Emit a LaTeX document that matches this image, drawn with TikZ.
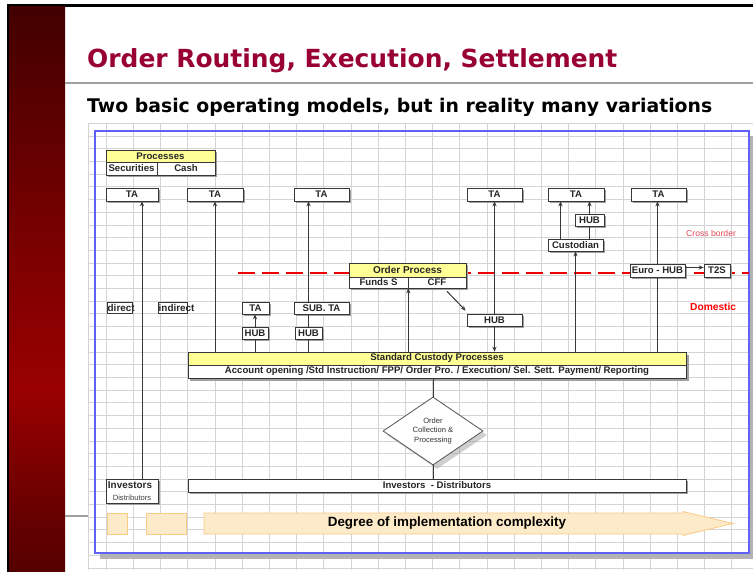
\documentclass[tikz,border=0pt]{standalone}
\usepackage{fontspec}
\setmainfont{Liberation Sans}
\newfontfamily\headfont{DejaVu Sans}
\usetikzlibrary{shapes.geometric,shadows,arrows.meta}

\definecolor{titlered}{RGB}{153,0,51}
\definecolor{gridgray}{RGB}{212,212,212}
\definecolor{frameblue}{RGB}{95,95,250}
\definecolor{boxyellow}{RGB}{255,255,150}
\definecolor{dashred}{RGB}{238,0,0}
\definecolor{lightorange}{RGB}{253,234,200}
\definecolor{edgeorange}{RGB}{250,202,135}
\definecolor{linegray}{RGB}{55,55,55}
\definecolor{shadowgray}{RGB}{160,160,160}
\definecolor{crossred}{RGB}{228,70,85}

% side bar: darker at both ends, brightest in the lower middle
% (the path is fitted to the 25bp..75bp band of the shading)
\pgfdeclareverticalshading{barshade}{100bp}{%
  rgb(0bp)=(0.33,0,0); rgb(25bp)=(0.33,0,0); rgb(31bp)=(0.42,0,0);
  rgb(41bp)=(0.60,0,0); rgb(52bp)=(0.50,0,0); rgb(75bp)=(0.26,0,0); rgb(100bp)=(0.26,0,0)}

% box given by its corners: [style]{name}{x1}{y1}{x2}{y2}{text}
\newcommand{\bx}[7][]{%
  \pgfmathsetmacro{\bxw}{#5-#3}%
  \pgfmathsetmacro{\bxh}{#6-#4}%
  \node[box,minimum width=\bxw pt,minimum height=\bxh pt,#1] (#2) at ({(#3+#5)/2},{(#4+#6)/2}) {#7};}

\tikzset{
  box/.style={draw=linegray, line width=0.7pt, fill=white, inner sep=0pt,
    text=black!85, font=\bfseries\fontsize{9.6}{11}\selectfont},
  shd/.style={drop shadow={shadow xshift=2pt, shadow yshift=-2pt, fill=shadowgray, opacity=1}},
  gridline/.style={draw=gridgray, line width=0.6pt},
  arr/.style={-{Stealth[length=5pt,width=4.2pt]}, draw=linegray, line width=1pt},
  ln/.style={draw=linegray, line width=1pt},
  lbl/.style={inner sep=0pt, text=black!85, font=\bfseries\fontsize{9.9}{11}\selectfont},
}

\begin{document}
\begin{tikzpicture}[x=1pt,y=-1pt]
\useasboundingbox (0,0) rectangle (753,572);
\fill[white] (0,0) rectangle (753,572);

% slide frame and side bar
\fill[black] (7,4.5) rectangle (753,7);
\fill[black] (7,4.5) rectangle (9,572);
\shade[shading=barshade] (9,7) rectangle (65,572);
\draw[gray!75, line width=1.2pt] (65,83) -- (753,83);
\draw[gray!75, line width=1.2pt] (65,516) -- (88,516);

% headings
\node[anchor=base west, inner sep=0pt, text=titlered] (title) at (87,68)
  {\resizebox{530pt}{!}{\headfont\bfseries Order Routing, Execution, Settlement}};
\node[anchor=base west, inner sep=0pt, text=black] (subtitle) at (87,113)
  {\resizebox{625pt}{!}{\headfont\bfseries Two basic operating models, but in reality many variations}};

% sheet grid
\foreach \k in {0,...,23} \draw[gridline] ({106+27.2*\k},123) -- ({106+27.2*\k},570);
\foreach \k in {0,...,35} \draw[gridline] (88,{123.3+12.7*\k}) -- (753,{123.3+12.7*\k});
\draw[gridline] (88,123) -- (88,570);

% blue frame with its shadow
\fill[shadowgray!80] (100,554) rectangle (753,559);
\fill[shadowgray!80] (750,136) rectangle (754,559);
\draw[frameblue, line width=1.6pt] (95,131) rectangle (749,553);

% border between cross border and domestic
\coordinate (dl) at (238,273);
\coordinate (dr) at (749,273);
\draw[dashred, line width=2.6pt, dash pattern=on 17pt off 7pt] (dl) -- (dr);

% processes legend
\fill[shadowgray] (108,152) rectangle (217,177);
\bx[fill=boxyellow]{proch}{106}{150}{215}{162}{Processes}
\bx{sec}{106}{162}{157}{175}{Securities}
\bx{cash}{157}{162}{215}{175}{Cash}

% transfer agents
\bx[shd]{tA1}{106}{188}{158}{201}{TA}
\bx[shd]{tA2}{187}{188}{243}{201}{TA}
\bx[shd]{tA3}{294}{188}{349}{201}{TA}
\bx[shd]{tA4}{467}{188}{522}{201}{TA}
\bx[shd]{tA5}{548}{188}{604}{201}{TA}
\bx[shd]{tA6}{631}{188}{686}{201}{TA}

% cross border intermediaries
\bx[shd]{hb3}{575}{214}{604}{226}{HUB}
\bx[shd]{cust}{548}{239}{603}{251}{Custodian}
\bx[shd]{euro}{630}{264}{685}{277}{Euro - HUB}
\bx[shd]{t2s}{704}{264}{730}{277}{T2S}

\node[anchor=west, inner sep=0pt, text=crossred, font=\fontsize{8.6}{10}\selectfont] (cb) at (686,233) {Cross border};
\node[anchor=west, inner sep=0pt, text=red, font=\bfseries\fontsize{10.2}{12}\selectfont] (dom) at (690,307) {Domestic};

% order process
\fill[shadowgray] (351,265) rectangle (468,290);
\bx[fill=boxyellow,font=\bfseries\fontsize{10}{11}\selectfont]{ordh}{349}{263}{466}{277}{Order Process}
\bx{fund}{349}{277}{408}{288}{Funds S}
\bx{cff}{408}{277}{466}{288}{CFF}

% domestic intermediaries
\bx{dir}{107}{302}{132}{313}{}
\node[lbl, anchor=west] (dirt) at (107.5,307.8) {direct};
\bx{ind}{158}{302}{187}{313}{}
\node[lbl, anchor=west] (indt) at (158.5,307.8) {indirect};
\bx[shd]{ta7}{242}{302}{269}{314}{TA}
\bx[shd]{hb1}{242}{327}{268}{339}{HUB}
\bx[shd]{sbta}{294}{302}{349}{314}{SUB. TA}
\bx[shd]{hb2}{295}{327}{322}{339}{HUB}
\bx[shd]{hubm}{467}{314}{522}{326}{HUB}

% standard custody processes
\fill[shadowgray] (190,354.5) rectangle (689,381);
\bx[fill=boxyellow]{stdh}{188}{352}{686}{365}{Standard Custody Processes}
\bx{stdb}{188}{365}{686}{378}{Account opening /Std Instruction/ FPP/ Order Pro. / Execution/ Sel. Sett. Payment/ Reporting}

% order collection
\node[diamond, draw=gray!65!black, line width=0.8pt, fill=white, minimum width=100pt, minimum height=68pt,
  inner sep=0pt, align=center, text=black!80, font=\fontsize{7.6}{9.4}\selectfont,
  drop shadow={shadow xshift=4pt, shadow yshift=-4pt, fill=shadowgray}] (dia) at (433,431)
  {Order\\Collection \&\\Processing};

% investors
\bx[shd]{inv}{106}{479}{158}{503}{}
\node[lbl] (invt) at (130,485.5) {Investors};
\node[inner sep=0pt, text=black!75, font=\fontsize{7.6}{9}\selectfont] (invs) at (132,497.5) {Distributors};
\bx[shd]{invd}{188}{479}{686}{492}{Investors\ \ - Distributors}

% complexity scale
\draw[edgeorange, fill=lightorange, line width=0.8pt] (107,513) rectangle (127,534);
\draw[edgeorange, fill=lightorange, line width=0.8pt] (146,513) rectangle (186,534);
\draw[edgeorange, fill=lightorange, line width=0.8pt]
  (204,513) -- (683,513) -- (683,511.5) -- (733,523.5) -- (683,535.5) -- (683,534) -- (204,534) -- cycle;
\node[inner sep=0pt, font=\bfseries\fontsize{13.4}{15}\selectfont] (deg) at (447,523.5) {Degree of implementation complexity};

% connectors
\draw[arr] ([xshift=10pt]inv.north) -- ([xshift=10pt]tA1.south);
\draw[arr] (tA2.south |- stdh.north) -- (tA2.south);
\draw[arr] (hb1.north) -- (hb1.north |- ta7.south);
\draw[ln] (hb1.south) -- (hb1.south |- stdh.north);
\draw[ln] (hb2.north |- sbta.south) -- (hb2.north);
\draw[ln] (hb2.south) -- (hb2.south |- stdh.north);
\draw[arr] (hb2.north |- sbta.north) -- (hb2.north |- tA3.south);
\draw[arr] (fund.south east |- stdh.north) -- (fund.south east);
\draw[arr] ([xshift=10pt,yshift=-3pt]cff.south) -- ([xshift=-1pt,yshift=3pt]hubm.north west);
\draw[arr] (hubm.north) -- (tA4.south);
\draw[arr] (hubm.south) -- (hubm.south |- stdh.north);
\draw[arr] (cust.south |- stdh.north) -- (cust.south);
\draw[arr] ([xshift=-15pt]cust.north) -- ([xshift=-15pt]cust.north |- tA5.south);
\draw[ln] (hb3.south |- cust.north) -- (hb3.south);
\draw[arr] (hb3.north) -- (hb3.north |- tA5.south);
\draw[arr] (euro.north) -- (euro.north |- tA6.south);
\draw[ln] (euro.south) -- (euro.south |- stdh.north);
\draw[arr] ([yshift=3pt]euro.east) -- ([yshift=3pt]euro.east -| t2s.west);
\draw[ln] (stdb.south -| dia.north) -- (dia.north);
\draw[ln] (dia.south) -- (dia.south |- invd.north);
\end{tikzpicture}
\end{document}
